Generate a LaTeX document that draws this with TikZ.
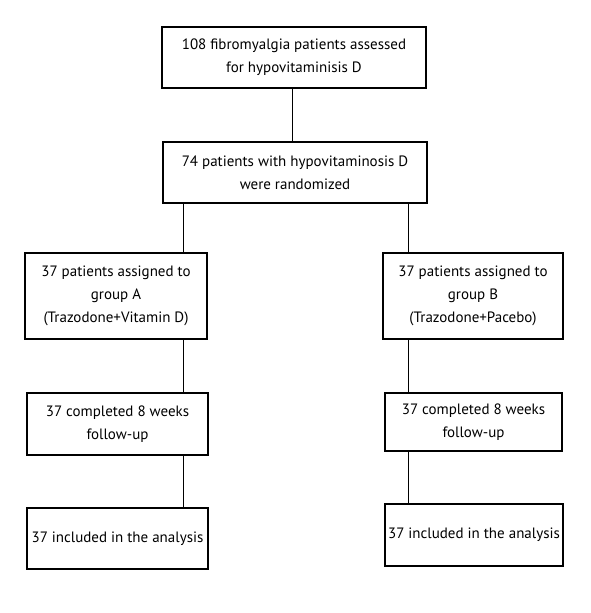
\documentclass[tikz,border=0pt]{standalone}
\usepackage{fontspec}
\setmainfont{PT Sans}
\usepackage{tikz}
\usetikzlibrary{math}
\usetikzlibrary{positioning}

\begin{document}
\begin{tikzpicture}[x=1pt,y=1pt,
	flowbox/.style={draw,line width=1.1pt,align=center,inner sep=0pt,
		font=\fontsize{15}{23}\selectfont},
	link/.style={line width=1.1pt},
	]
	\useasboundingbox (0,0) rectangle (590,613);
	\tikzmath{\ColA = 183.5; \ColB = 408.5;}
	
	\node[flowbox,minimum width=264,minimum height=61] (assessed) at (294,555.5)
	{108 fibromyalgia patients assessed\\for hypovitaminisis D};
	\node[flowbox,minimum width=264,minimum height=61] (random) at (295,440.5)
	{74 patients with hypovitaminosis D\\were randomized};
	
	\node[flowbox,minimum width=182,minimum height=86] (groupA) at (116,317)
	{37 patients assigned to\\group A\\(Trazodone+Vitamin D)};
	\node[flowbox,minimum width=180,minimum height=86] (groupB) at (473,317)
	{37 patients assigned to\\group B\\(Trazodone+Pacebo)};
	
	\node[flowbox,minimum width=181,minimum height=62] (followA) at (117.5,189)
	{37 completed 8 weeks\\follow-up};
	\node[flowbox,minimum width=177,minimum height=58] (followB) at (473.5,191)
	{37 completed 8 weeks\\follow-up};
	
	\node[flowbox,minimum width=181,minimum height=61] (analysisA) at (117.5,74.5)
	{37 included in the analysis};
	\node[flowbox,minimum width=178,minimum height=62] (analysisB) at (474,78)
	{37 included in the analysis};
	
	\coordinate (colA) at (\ColA,0);
	\coordinate (colB) at (\ColB,0);
	\coordinate (colMid) at (292.5,0);
	
	\draw[link] (assessed.south -| colMid) -- (random.north -| colMid);
	\draw[link] (random.south -| colA) -- (groupA.north -| colA);
	\draw[link] (random.south -| colB) -- (groupB.north -| colB);
	\draw[link] (groupA.south -| colA) -- (followA.north -| colA);
	\draw[link] (groupB.south -| colB) -- (followB.north -| colB);
	\draw[link] (followA.south -| colA) -- (analysisA.north -| colA);
	\draw[link] (followB.south -| colB) -- (analysisB.north -| colB);
\end{tikzpicture}
\end{document}
